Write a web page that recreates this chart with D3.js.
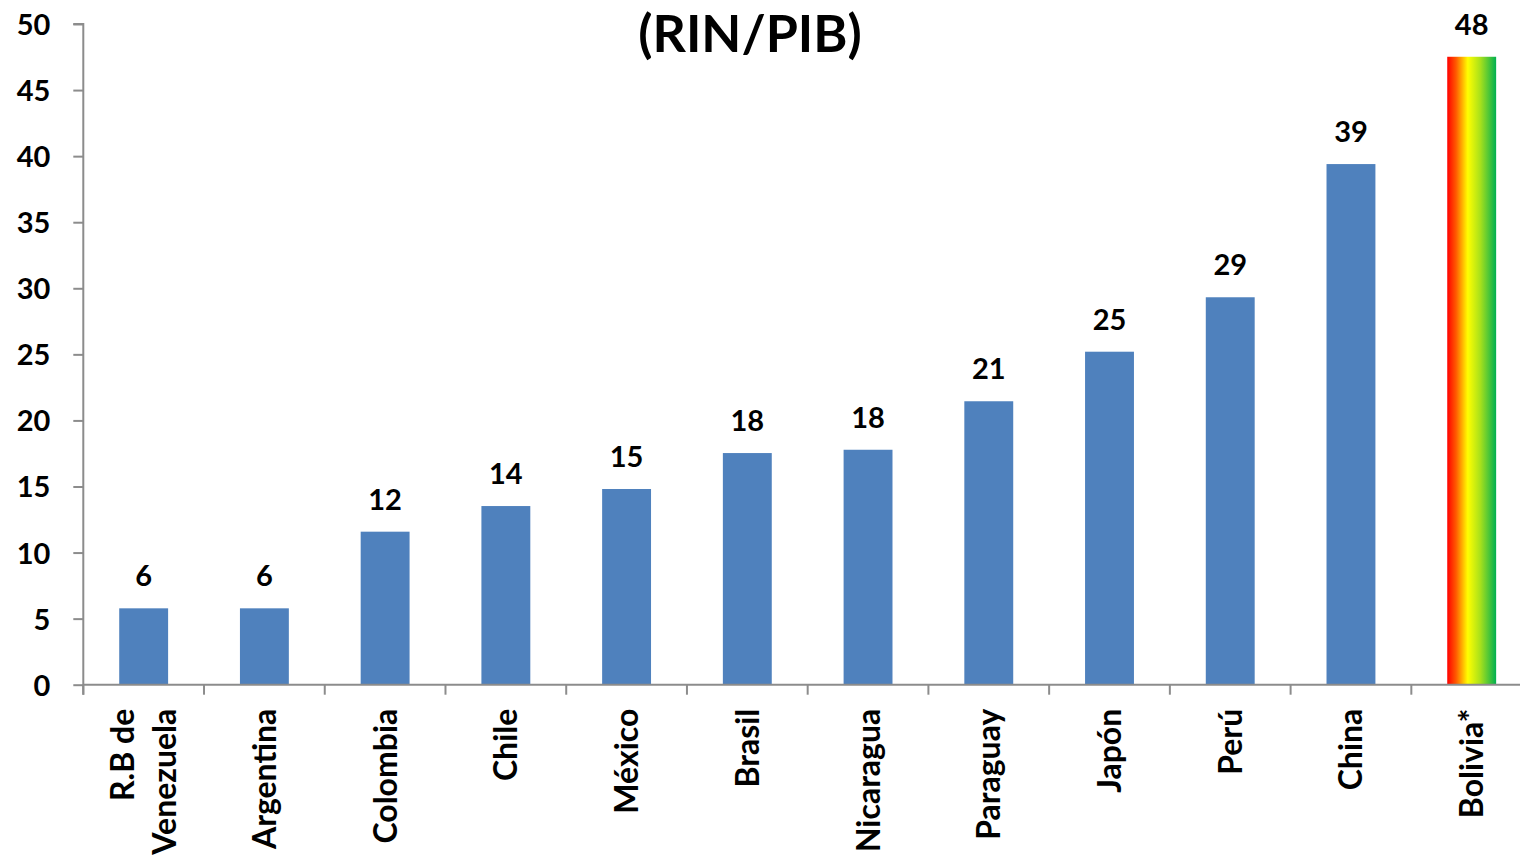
<!DOCTYPE html>
<html>
<head>
<meta charset="utf-8">
<script src="https://cdn.jsdelivr.net/npm/d3@7"></script>
<style>
  html, body { margin: 0; padding: 0; background: #fff; }
  svg { display: block; }
  text { font-family: Lato, "Open Sans", sans-serif; font-weight: 700; fill: #000; }
</style>
</head>
<body>
<svg id="chart" width="1520" height="860"></svg>
<script>
// Reservas internacionales netas como porcentaje del PIB
const categories = ["R.B de\nVenezuela", "Argentina", "Colombia", "Chile", "México", "Brasil",
                    "Nicaragua", "Paraguay", "Japón", "Perú", "China", "Bolivia*"];
const values = [5.78, 5.78, 11.58, 13.52, 14.81, 17.53, 17.78, 21.45, 25.2, 29.32, 39.4, 47.52];
const yTicks = [0, 5, 10, 15, 20, 25, 30, 35, 40, 45, 50];
const highlight = "Bolivia*";
const title = "(RIN/PIB)";

const svg = d3.select("#chart");
const W = 1520, H = 860;
const x0 = 83.3, step = 120.73;
const yBase = 684.7, yTop = 24;

const x = d3.scaleBand()
  .domain(categories)
  .range([x0, x0 + step * categories.length])
  .paddingInner(0.595)
  .paddingOuter(0.2975);

const y = d3.scaleLinear().domain([0, 50]).range([yBase, yTop]);

// Gradiente rojo-amarillo-verde para Bolivia
const defs = svg.append("defs");
const grad = defs.append("linearGradient")
  .attr("id", "bandera").attr("x1", "0%").attr("x2", "100%").attr("y1", "0%").attr("y2", "0%");
[["0%", "#ff0000"], ["18%", "#ff5a00"], ["42%", "#ffff00"], ["68%", "#a6e01c"], ["100%", "#00b050"]]
  .forEach(([o, c]) => grad.append("stop").attr("offset", o).attr("stop-color", c));

// Barras
svg.append("g").selectAll("rect")
  .data(values)
  .join("rect")
  .attr("x", (d, i) => x(categories[i]))
  .attr("width", x.bandwidth())
  .attr("y", d => y(d))
  .attr("height", d => yBase - y(d))
  .attr("fill", (d, i) => categories[i] === highlight ? "url(#bandera)" : "#4f81bd");

// Eje Y
const yAxis = svg.append("g")
  .attr("transform", `translate(${x0},0)`)
  .call(d3.axisLeft(y).tickValues(yTicks).tickSize(10).tickPadding(23));
yAxis.select(".domain").attr("stroke", "#8c8c8c").attr("stroke-width", 2)
  .attr("d", `M-10,${yTop}H0V${yBase + 10}`);
yAxis.selectAll(".tick line").attr("stroke", "#8c8c8c").attr("stroke-width", 2);
yAxis.selectAll(".tick text").style("font-size", "29px").attr("dy", "0.36em");

// Eje X: línea base, marcas entre categorías y etiquetas rotadas
const xAxis = svg.append("g");
xAxis.append("line")
  .attr("x1", x0).attr("x2", W).attr("y1", yBase).attr("y2", yBase)
  .attr("stroke", "#8c8c8c").attr("stroke-width", 2);
const bounds = categories.map(c => x(c) - x.step() * x.paddingInner() / 2);
xAxis.selectAll(".sep")
  .data(bounds)
  .join("line")
  .attr("class", "sep")
  .attr("x1", d => d).attr("x2", d => d)
  .attr("y1", yBase).attr("y2", yBase + 10)
  .attr("stroke", "#8c8c8c").attr("stroke-width", 2);

const lineH = 42;
xAxis.selectAll(".cat")
  .data(categories)
  .join("text")
  .attr("class", "cat")
  .attr("text-anchor", "end")
  .style("font-size", "32px")
  .attr("transform", d => `translate(${x(d) + x.bandwidth() / 2},${yBase + 24}) rotate(-90)`)
  .each(function (d) {
    const lines = d.split("\n");
    const t = d3.select(this);
    lines.forEach((ln, j) => {
      const off = (j - (lines.length - 1) / 2) * lineH;
      t.append("tspan").attr("x", 0).attr("y", off).attr("dy", "0.36em").text(ln);
    });
  });

// Etiquetas de valor
svg.append("g").selectAll("text")
  .data(values)
  .join("text")
  .attr("text-anchor", "middle")
  .style("font-size", "29px")
  .attr("x", (d, i) => x(categories[i]) + x.bandwidth() / 2)
  .attr("y", d => y(d) - 22)
  .text(d => d3.format(".0f")(d));

// Título
svg.append("text")
  .attr("x", 750).attr("y", 52)
  .attr("text-anchor", "middle")
  .style("font-size", "52px")
  .text(title);
</script>
</body>
</html>
